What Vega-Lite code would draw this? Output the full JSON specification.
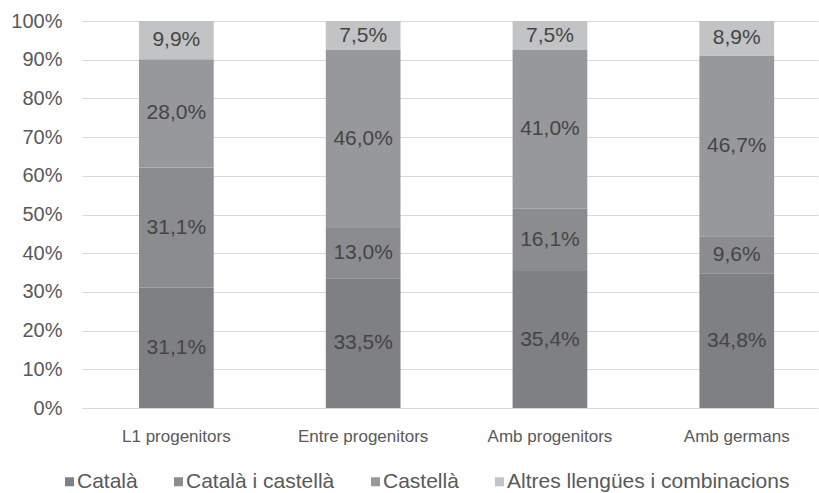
{
  "$schema": "https://vega.github.io/schema/vega-lite/v6.json",
  "width": 736,
  "height": 387,
  "autosize": "none",
  "padding": {"left": 82, "top": 21, "right": 1, "bottom": 85},
  "background": "white",
  "data": {
    "values": [
      {"grup": "L1 progenitors", "cat": "Català", "ord": 1, "share": 0.311},
      {"grup": "L1 progenitors", "cat": "Català i castellà", "ord": 2, "share": 0.311},
      {"grup": "L1 progenitors", "cat": "Castellà", "ord": 3, "share": 0.280},
      {"grup": "L1 progenitors", "cat": "Altres llengües i combinacions", "ord": 4, "share": 0.099},
      {"grup": "Entre progenitors", "cat": "Català", "ord": 1, "share": 0.335},
      {"grup": "Entre progenitors", "cat": "Català i castellà", "ord": 2, "share": 0.130},
      {"grup": "Entre progenitors", "cat": "Castellà", "ord": 3, "share": 0.460},
      {"grup": "Entre progenitors", "cat": "Altres llengües i combinacions", "ord": 4, "share": 0.075},
      {"grup": "Amb progenitors", "cat": "Català", "ord": 1, "share": 0.354},
      {"grup": "Amb progenitors", "cat": "Català i castellà", "ord": 2, "share": 0.161},
      {"grup": "Amb progenitors", "cat": "Castellà", "ord": 3, "share": 0.410},
      {"grup": "Amb progenitors", "cat": "Altres llengües i combinacions", "ord": 4, "share": 0.075},
      {"grup": "Amb germans", "cat": "Català", "ord": 1, "share": 0.348},
      {"grup": "Amb germans", "cat": "Català i castellà", "ord": 2, "share": 0.096},
      {"grup": "Amb germans", "cat": "Castellà", "ord": 3, "share": 0.467},
      {"grup": "Amb germans", "cat": "Altres llengües i combinacions", "ord": 4, "share": 0.089}
    ]
  },
  "encoding": {
    "x": {
      "field": "grup",
      "type": "nominal",
      "sort": ["L1 progenitors", "Entre progenitors", "Amb progenitors", "Amb germans"],
      "scale": {"paddingInner": 0.6, "paddingOuter": 0.27, "align": 0.565},
      "axis": {
        "title": null,
        "labelAngle": 0,
        "labelFont": "Liberation Sans",
        "labelFontSize": 17,
        "labelColor": "#595959",
        "labelPadding": 20,
        "ticks": false,
        "domainColor": "#d9d9d9",
        "domainWidth": 1
      }
    },
    "y": {
      "field": "share",
      "type": "quantitative",
      "stack": "normalize",
      "scale": {"domain": [0, 1], "nice": false},
      "axis": {
        "title": null,
        "format": ".0%",
        "values": [0, 0.1, 0.2, 0.3, 0.4, 0.5, 0.6, 0.7, 0.8, 0.9, 1],
        "labelFont": "Liberation Sans",
        "labelFontSize": 20,
        "labelColor": "#595959",
        "labelPadding": 20,
        "ticks": false,
        "domain": false,
        "grid": true,
        "gridColor": "#d9d9d9",
        "gridWidth": 1
      }
    },
    "order": {"field": "ord", "type": "quantitative"},
    "detail": {"field": "cat", "type": "nominal"}
  },
  "layer": [
    {
      "mark": {"type": "bar"},
      "encoding": {
        "color": {
          "field": "cat",
          "type": "nominal",
          "scale": {
            "domain": ["Català", "Català i castellà", "Castellà", "Altres llengües i combinacions"],
            "range": ["#7f8083", "#8b8c8f", "#97989b", "#c2c3c5"]
          },
          "legend": {
            "title": null,
            "orient": "none",
            "legendX": -23,
            "legendY": 450,
            "direction": "horizontal",
            "columns": 4,
            "columnPadding": 30,
            "symbolType": "square",
            "symbolSize": 81,
            "symbolStrokeWidth": 0,
            "labelOffset": -3,
            "labelFont": "Liberation Sans",
            "labelFontSize": 21,
            "labelColor": "#595959",
            "labelLimit": 400
          }
        }
      }
    },
    {
      "mark": {"type": "text", "font": "Liberation Sans", "fontSize": 21, "color": "#454545", "baseline": "middle"},
      "encoding": {
        "y": {"field": "share", "type": "quantitative", "stack": "normalize", "bandPosition": 0.5},
        "text": {"field": "share", "type": "quantitative", "format": ".1%"}
      }
    }
  ],
  "config": {
    "view": {"stroke": null},
    "locale": {
      "number": {"decimal": ",", "thousands": ".", "grouping": [3], "currency": ["", " €"]}
    }
  }
}
